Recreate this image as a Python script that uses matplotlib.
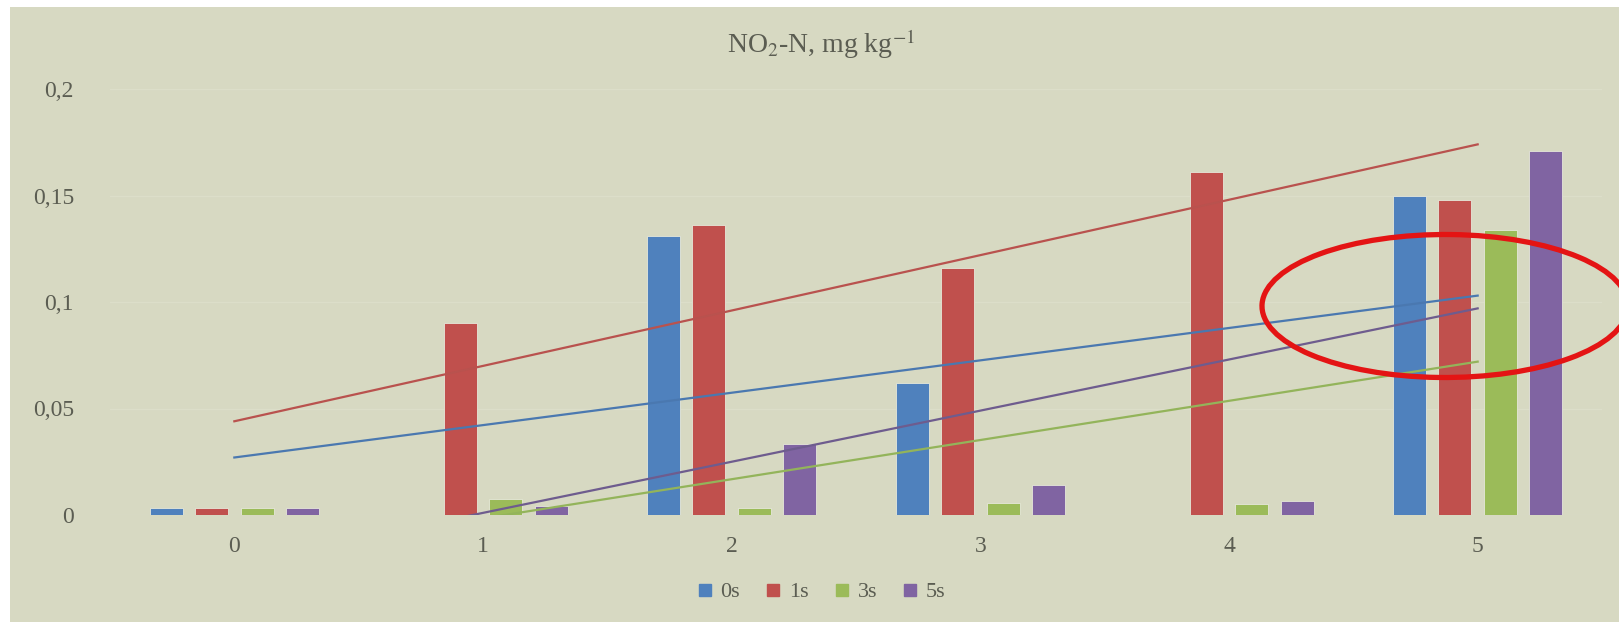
import matplotlib
matplotlib.use("Agg")
import matplotlib.pyplot as plt
from matplotlib.patches import Ellipse, Rectangle
from matplotlib.lines import Line2D
import numpy as np

# sampling days on the x axis
days = [0, 1, 2, 3, 4, 5]
series = ["0s", "1s", "3s", "5s"]

# NO2-N content, mg/kg
no2_0s = [0.0035, 0.0, 0.131, 0.062, 0.0, 0.150]
no2_1s = [0.0035, 0.090, 0.136, 0.116, 0.161, 0.148]
no2_3s = [0.0035, 0.0075, 0.0033, 0.0056, 0.005, 0.134]
no2_5s = [0.0035, 0.004, 0.0334, 0.014, 0.0067, 0.171]

# linear trend lines: value at day 0 and day 5
trend_start = [0.027, 0.044, -0.020, -0.023]
trend_end = [0.103, 0.174, 0.072, 0.097]

y_ticks = [0, 0.05, 0.1, 0.15, 0.2]
y_labels = ["0", "0,05", "0,1", "0,15", "0,2"]

bar_colors = ["#4F81BD", "#C0504D", "#9BBB59", "#8064A2"]
line_colors = ["#4a78b0", "#b9524e", "#93b45a", "#6e5c8e"]
bg = "#d7d9c2"
text_color = "#5b5d52"

plt.rcParams["font.family"] = ["Liberation Serif", "DejaVu Serif"]
plt.rcParams["mathtext.fontset"] = "stix"

W, H = 1619, 622
fig = plt.figure(figsize=(W / 100, H / 100), dpi=100)
fig.patch.set_facecolor("white")
fig.add_artist(Rectangle((10 / W, 0), 1, 1 - 7 / H, transform=fig.transFigure,
                         facecolor=bg, edgecolor="none", zorder=0))

ax = fig.add_axes([110 / W, 107 / H, (1602 - 110) / W, (515 - 89) / H])
ax.set_facecolor(bg)
for s in ax.spines.values():
    s.set_visible(False)

x = np.array(days, dtype=float)
width = 0.133
step = 0.183
values = [no2_0s, no2_1s, no2_3s, no2_5s]
for i, (name, vals) in enumerate(zip(series, values)):
    ax.bar(x + (i - 1.5) * step, vals, width, color=bar_colors[i],
           edgecolor="#e6e8da", linewidth=0.6, label=name, zorder=2)

for i in range(len(series)):
    ax.plot([days[0], days[-1]], [trend_start[i], trend_end[i]],
            color=line_colors[i], lw=1.6, zorder=3)

ax.set_xlim(-0.5, 5.5)
ax.set_ylim(0, 0.2)
ax.set_yticks(y_ticks)
ax.set_yticklabels(y_labels)
ax.set_xticks(days)
ax.set_xticklabels([str(d) for d in days])
ax.tick_params(axis="y", length=0, pad=26, labelsize=17, labelcolor=text_color)
ax.tick_params(axis="x", length=0, pad=15, labelsize=17, labelcolor=text_color)
ax.yaxis.grid(True, color="#dcdec9", lw=1, zorder=0)
ax.set_axisbelow(True)

fig.text(0.507, 1 - 53 / H, r"NO$_2$-N, mg kg$^{-1}$", ha="center", va="baseline",
         fontsize=20, color=text_color)

handles = [Line2D([], [], marker="s", ls="none", markersize=9, color=c) for c in bar_colors]
fig.legend(handles, series, loc="center", bbox_to_anchor=(0.507, 1 - 592 / H),
           ncol=4, frameon=False, fontsize=16, handlelength=0.8, handletextpad=0.3,
           columnspacing=1.1, labelcolor=text_color)

# highlight ring around the last day's trend ends
fig.add_artist(Ellipse((1445 / W, 1 - 306 / H), 366 / W, 143 / H, angle=-2,
                       transform=fig.transFigure, fill=False, edgecolor="#e41414",
                       lw=3.8, zorder=10))

fig.savefig("out.png", dpi=100, facecolor=fig.get_facecolor())
